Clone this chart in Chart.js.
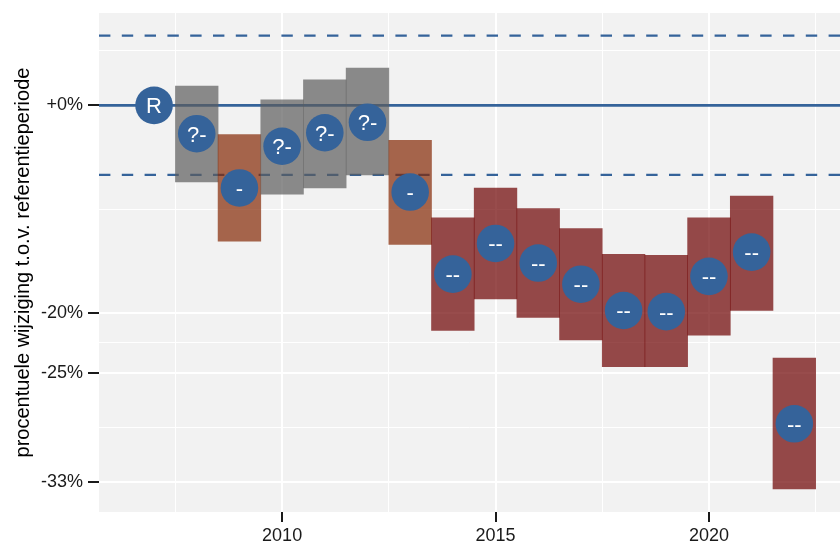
<!DOCTYPE html>
<html>
<head>
<meta charset="utf-8">
<script src="https://cdn.jsdelivr.net/npm/chart.js@4/dist/chart.umd.min.js"></script>
<style>
  html, body { margin: 0; padding: 0; background: #fff; }
  #wrap { width: 840px; height: 542px; }
</style>
</head>
<body>
<div id="wrap"><canvas id="chart"></canvas></div>
<script>
// =====================
// DATA (index relative to reference period, 1 = +0%)
// =====================
const years    = [2007, 2008, 2009, 2010, 2011, 2012, 2013, 2014, 2015, 2016, 2017, 2018, 2019, 2020, 2021, 2022];
const classes  = ['R', '?-', '-', '?-', '?-', '?-', '-', '--', '--', '--', '--', '--', '--', '--', '--', '--'];
const estimate = [1.000, 0.970, 0.915, 0.957, 0.971, 0.982, 0.911, 0.834, 0.862, 0.844, 0.825, 0.802, 0.801, 0.832, 0.854, 0.710];
const lower    = [null, 0.921, 0.864, 0.909, 0.915, 0.928, 0.861, 0.785, 0.812, 0.796, 0.777, 0.755, 0.755, 0.781, 0.802, 0.662];
const upper    = [null, 1.021, 0.969, 1.006, 1.028, 1.041, 0.963, 0.886, 0.915, 0.895, 0.876, 0.852, 0.851, 0.886, 0.907, 0.762];

const referenceLine = 1;
const thresholdLines = [1.078, 0.928];

// y axis breaks
const yMajor = [1, 0.8, 0.75, 0.6667];
const yLabels = ['+0%', '-20%', '-25%', '-33%'];
const yMinor = [1.061, 0.894, 0.775, 0.707];

// x axis breaks
const xMajor = [2010, 2015, 2020];
const xMinor = [2007.5, 2012.5, 2017.5, 2022.5];

const FONT = '"Liberation Sans", Arial, Helvetica, sans-serif';
const BLUE = '#35639A';
const classColors = {
    '?-': 'rgba(92, 92, 92, 0.7)',
    '-':  'rgba(133, 40, 4, 0.7)',
    '--': 'rgba(108, 0, 0, 0.7)'
};

Chart.defaults.font.family = FONT;

// =====================
// PLUGINS
// =====================
const panelBg = {
    id: 'panelBg',
    beforeDraw(chart) {
        const { ctx, chartArea: a } = chart;
        ctx.save();
        ctx.fillStyle = '#F2F2F2';
        ctx.fillRect(a.left, a.top, a.right - a.left, a.bottom - a.top);
        ctx.restore();
    }
};

const refLines = {
    id: 'refLines',
    beforeDatasetsDraw(chart) {
        const { ctx, chartArea: a, scales } = chart;
        const y = scales.y;
        ctx.save();
        ctx.strokeStyle = BLUE;

        ctx.lineWidth = 2.6;
        ctx.beginPath();
        const y0 = y.getPixelForValue(referenceLine);
        ctx.moveTo(a.left, y0);
        ctx.lineTo(a.right, y0);
        ctx.stroke();

        ctx.lineWidth = 2.3;
        ctx.setLineDash([11.4, 11.4]);
        thresholdLines.forEach(v => {
            const py = y.getPixelForValue(v);
            ctx.beginPath();
            ctx.moveTo(a.left, py);
            ctx.lineTo(a.right, py);
            ctx.stroke();
        });
        ctx.restore();
    }
};

const pointLabels = {
    id: 'pointLabels',
    afterDatasetsDraw(chart) {
        const { ctx } = chart;
        const meta = chart.getDatasetMeta(1);
        ctx.save();
        ctx.fillStyle = '#FFFFFF';
        ctx.textAlign = 'center';
        ctx.textBaseline = 'alphabetic';
        const size = 22;
        ctx.font = size + 'px ' + FONT;
        meta.data.forEach((pt, i) => {
            ctx.fillText(classes[i], pt.x, pt.y + size * 0.358);
        });
        ctx.restore();
    }
};

// =====================
// CHART
// =====================
const barData = [];
const barColors = [];
years.forEach((yr, i) => {
    if (lower[i] === null) return;
    barData.push({ x: yr, y: [lower[i], upper[i]] });
    barColors.push(classColors[classes[i]]);
});

const tickVal = c => (c && c.tick) ? c.tick.value : NaN;
const isMajorY = v => yMajor.some(m => Math.abs(m - v) < 1e-6);
const isMajorX = v => xMajor.includes(v);

new Chart(document.getElementById('chart'), {
    type: 'bar',
    data: {
        datasets: [
            {
                type: 'bar',
                data: barData,
                backgroundColor: barColors,
                borderWidth: 0,
                barPercentage: 1,
                categoryPercentage: 1,
                order: 2
            },
            {
                type: 'line',
                data: years.map((yr, i) => ({ x: yr, y: estimate[i] })),
                showLine: false,
                pointRadius: 18.8,
                pointHoverRadius: 18.8,
                pointBackgroundColor: BLUE,
                pointBorderWidth: 0,
                order: 1
            }
        ]
    },
    options: {
        responsive: true,
        maintainAspectRatio: false,
        devicePixelRatio: 1,
        animation: false,
        events: [],
        layout: {
            autoPadding: false,
            padding: { top: 13, right: 0, bottom: 0, left: 0 }
        },
        plugins: {
            legend: { display: false },
            tooltip: { enabled: false }
        },
        scales: {
            x: {
                type: 'linear',
                min: 2005.71,
                max: 2023.07,
                offset: false,
                afterBuildTicks: s => {
                    s.ticks = [...xMinor, ...xMajor].sort((a, b) => a - b).map(v => ({ value: v }));
                },
                afterFit: s => {
                    s.height = 30;
                    s.paddingLeft = 0;
                    s.paddingRight = 0;
                },
                ticks: {
                    autoSkip: false,
                    maxRotation: 0,
                    padding: 3,
                    color: '#1A1A1A',
                    font: { size: 18 },
                    callback: v => isMajorX(v) ? String(v) : ''
                },
                grid: {
                    offset: false,
                    color: '#FFFFFF',
                    lineWidth: c => isMajorX(tickVal(c)) ? 2 : 1,
                    tickLength: 10,
                    tickWidth: 2,
                    tickColor: c => isMajorX(tickVal(c)) ? '#1A1A1A' : 'rgba(0,0,0,0)'
                },
                border: { display: false }
            },
            y: {
                type: 'logarithmic',
                min: 0.6457,
                max: 1.1045,
                bounds: 'data',
                afterBuildTicks: s => {
                    s.ticks = [...yMinor, ...yMajor].sort((a, b) => a - b).map(v => ({ value: v }));
                },
                afterFit: s => {
                    s.width = 99;
                    s.paddingTop = 0;
                    s.paddingBottom = 0;
                },
                ticks: {
                    autoSkip: false,
                    padding: 5,
                    color: '#1A1A1A',
                    font: { size: 18 },
                    callback: v => {
                        const i = yMajor.findIndex(m => Math.abs(m - v) < 1e-6);
                        return i >= 0 ? yLabels[i] : '';
                    }
                },
                grid: {
                    color: '#FFFFFF',
                    lineWidth: c => isMajorY(tickVal(c)) ? 2 : 1,
                    tickLength: 11,
                    tickWidth: 2,
                    tickColor: c => isMajorY(tickVal(c)) ? '#1A1A1A' : 'rgba(0,0,0,0)'
                },
                border: { display: false },
                title: {
                    display: true,
                    text: 'procentuele wijziging t.o.v. referentieperiode',
                    color: '#000000',
                    font: { size: 20 },
                    padding: { top: 11, bottom: 0 }
                }
            }
        }
    },
    plugins: [panelBg, refLines, pointLabels]
});
</script>
</body>
</html>
